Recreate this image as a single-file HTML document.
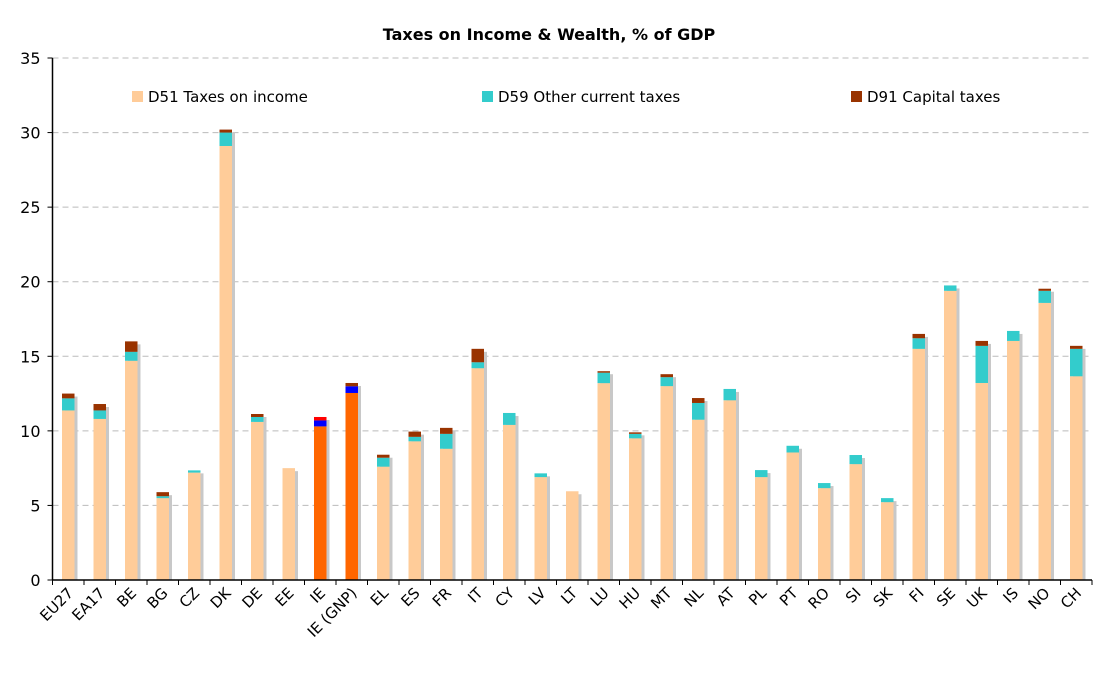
<!DOCTYPE html>
<html><head><meta charset="utf-8"><style>
body{margin:0;background:#fff;}
svg{display:block;font-family:"DejaVu Sans","Liberation Sans",sans-serif;}
</style></head><body>
<svg id="chart" width="1099" height="674">
<text x="549" y="40" text-anchor="middle" font-weight="bold" font-size="16">Taxes on Income &amp; Wealth, % of GDP</text>
<g id="grid"></g><g id="bars"></g><g id="axes"></g>
<g>
<g><rect x="132" y="91" width="11" height="11" fill="#ffcc99"/><text x="148" y="102" font-size="15">D51 Taxes on income</text></g>
<g><rect x="482" y="91" width="11" height="11" fill="#33cccc"/><text x="498" y="102" font-size="15">D59 Other current taxes</text></g>
<g><rect x="851" y="91" width="11" height="11" fill="#993300"/><text x="867" y="102" font-size="15">D91 Capital taxes</text></g>
</g>
</svg>
<script>
const categories=["EU27","EA17","BE","BG","CZ","DK","DE","EE","IE","IE (GNP)","EL","ES","FR","IT","CY","LV","LT","LU","HU","MT","NL","AT","PL","PT","RO","SI","SK","FI","SE","UK","IS","NO","CH"];
const d51=[11.37,10.8,14.7,5.49,7.2,29.1,10.6,7.5,10.3,12.54,7.6,9.3,8.8,14.2,10.4,6.9,5.95,13.2,9.5,13.0,10.75,12.05,6.9,8.55,6.16,7.77,5.22,15.5,19.39,13.21,16.03,18.58,13.66];
const d59=[0.81,0.57,0.6,0.13,0.15,0.9,0.33,0,0.4,0.45,0.6,0.3,1.0,0.4,0.8,0.25,0,0.7,0.3,0.6,1.12,0.76,0.47,0.45,0.34,0.61,0.27,0.71,0.36,2.49,0.67,0.81,1.84];
const d91=[0.32,0.43,0.7,0.27,0,0.2,0.2,0,0.23,0.22,0.2,0.35,0.4,0.9,0,0,0,0.1,0.1,0.2,0.33,0,0,0,0,0,0,0.29,0,0.33,0,0.14,0.2];
const yTicks=[0,5,10,15,20,25,30,35];
const NS="http://www.w3.org/2000/svg";
const X0=52.5,X1=1092,Y0=580,Y1=58,YMAX=35;
const slot=(X1-X0)/categories.length;
const y=v=>Y0-(Y0-Y1)*v/YMAX;
const xc=i=>X0+slot*(i+0.5);
function mk(t,a,p){const e=document.createElementNS(NS,t);for(const k in a)e.setAttribute(k,a[k]);p.appendChild(e);return e;}
const grid=document.getElementById('grid'),bars=document.getElementById('bars'),axes=document.getElementById('axes');
yTicks.forEach(v=>{
 if(v>0){const l=mk('line',{x1:X0,x2:X1,y1:y(v),y2:y(v),stroke:'#bbb','stroke-dasharray':'6,4'},grid);
 
 }
 mk('line',{x1:X0-5,x2:X0,y1:y(v),y2:y(v),stroke:'#000'},axes);
 const t=mk('text',{x:X0-12,y:y(v)+6,'text-anchor':'end','font-size':'16'},axes);t.textContent=v;
 
 
});
const bw=12.5;
categories.forEach((c,i)=>{
 const x=xc(i)-bw/2;
 const g=mk('g',{},bars);
 
 
 const tot=d51[i]+d59[i]+d91[i];
 mk('rect',{x:x+3,y:y(tot)+3,width:bw,height:Y0-y(tot)-3,fill:'#c8c8c8'},g);
 const ie=c.startsWith('IE');
 const cols=[ie?'#ff6600':'#ffcc99',ie?'#0000ff':'#33cccc',c==='IE'?'#ff0000':'#993300'];
 let base=0;[d51[i],d59[i],d91[i]].forEach((v,k)=>{
  if(v>0)mk('rect',{x:x,y:y(base+v),width:bw,height:y(base)-y(base+v),fill:cols[k]},g);
  base+=v;});
 mk('line',{x1:X0+slot*i,x2:X0+slot*i,y1:Y0,y2:Y0+5,stroke:'#000'},axes);
 const px=xc(i)+6,py=Y0+14;
 const t=mk('text',{x:px,y:py,'text-anchor':'end','font-size':'15',transform:`rotate(-45 ${px} ${py})`},axes);
 t.textContent=c;
 
 
});
mk('line',{x1:X1,x2:X1,y1:Y0,y2:Y0+5,stroke:'#000'},axes);
mk('line',{x1:X0,x2:X0,y1:Y1,y2:Y0,stroke:'#000','stroke-width':1.5},axes);
mk('line',{x1:X0,x2:X1,y1:Y0,y2:Y0,stroke:'#000','stroke-width':1.5},axes);
</script>
</body></html>
